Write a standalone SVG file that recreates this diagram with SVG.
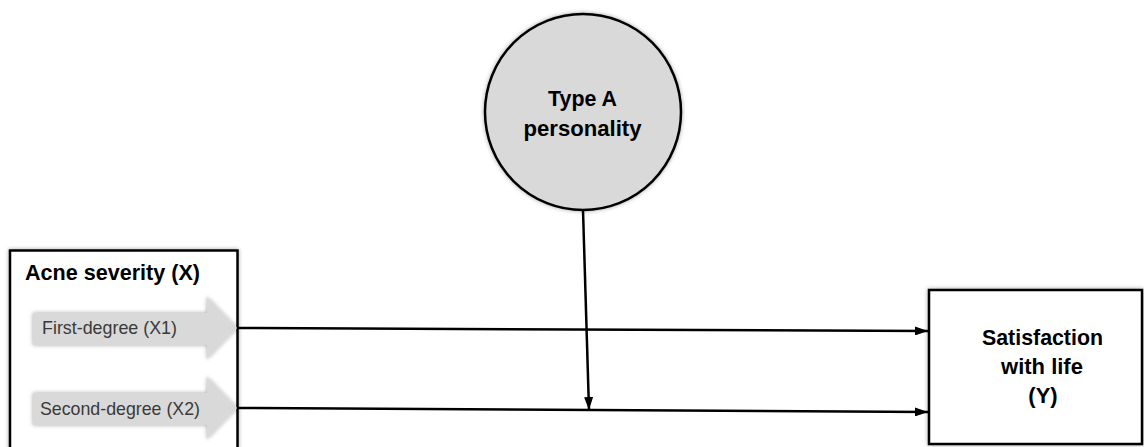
<svg xmlns="http://www.w3.org/2000/svg" width="1144" height="447" viewBox="0 0 1144 447">
<style>
.box{fill:#ffffff;stroke:#000000;stroke-width:2.5}
.circ{fill:#d9d9d9;stroke:#000000;stroke-width:2.5}
.blk{fill:#d9d9d9;stroke:none}
.title{font-family:"Liberation Sans",Arial,sans-serif;font-weight:bold;font-size:22px;fill:#000000}
.lbl{font-family:"Liberation Sans",Arial,sans-serif;font-size:18.5px;fill:#3a3a3a}
.conn{stroke:#000000;stroke-width:2.5;fill:none}
</style>
<defs>
<marker id="ah" viewBox="0 0 13 9" refX="13" refY="4.5" markerWidth="13" markerHeight="9" markerUnits="userSpaceOnUse" orient="auto">
<path d="M0,0 L13,4.5 L0,9 Z" fill="#000000"/>
</marker>
<filter id="sh" x="-10%" y="-10%" width="120%" height="120%">
<feDropShadow dx="0" dy="0" stdDeviation="2" flood-color="#000000" flood-opacity="0.35"/>
</filter>
</defs>
<g id="node-acne">
<rect class="box" x="10" y="250.5" width="227.5" height="210" filter="url(#sh)"/>
<text class="title" x="25" y="280" font-size="24" textLength="175" lengthAdjust="spacingAndGlyphs">Acne severity (X)</text>
</g>
<g id="node-x1">
<path class="blk" d="M33,313 L207,313 L207,297 L237,328 L207,359 L207,345 L33,345 Z" filter="url(#sh)"/>
<text class="lbl" x="42" y="334" textLength="135" lengthAdjust="spacingAndGlyphs">First-degree  (X1)</text>
</g>
<g id="node-x2">
<path class="blk" d="M33,393 L207,393 L207,377 L237,408 L207,439 L207,425 L33,425 Z" filter="url(#sh)"/>
<text class="lbl" x="40" y="415" textLength="160" lengthAdjust="spacingAndGlyphs">Second-degree  (X2)</text>
</g>
<g id="node-typeA">
<circle class="circ" cx="583" cy="112" r="98" filter="url(#sh)"/>
<text class="title" x="548" y="106" textLength="69" lengthAdjust="spacingAndGlyphs">Type A</text>
<text class="title" x="523.5" y="136" textLength="118" lengthAdjust="spacingAndGlyphs">personality</text>
</g>
<g id="node-satisfaction">
<rect class="box" x="929" y="290" width="213" height="154" filter="url(#sh)"/>
<text class="title" x="982" y="345" textLength="121" lengthAdjust="spacingAndGlyphs">Satisfaction</text>
<text class="title" x="1042" y="374" text-anchor="middle">with life</text>
<text class="title" x="1043" y="403" text-anchor="middle">(Y)</text>
</g>
<g id="connectors">
<line class="conn" x1="237" y1="328" x2="928" y2="331" marker-end="url(#ah)"/>
<line class="conn" x1="237" y1="408" x2="928" y2="412" marker-end="url(#ah)"/>
<line class="conn" x1="583" y1="210" x2="589" y2="410" marker-end="url(#ah)"/>
</g>
</svg>
